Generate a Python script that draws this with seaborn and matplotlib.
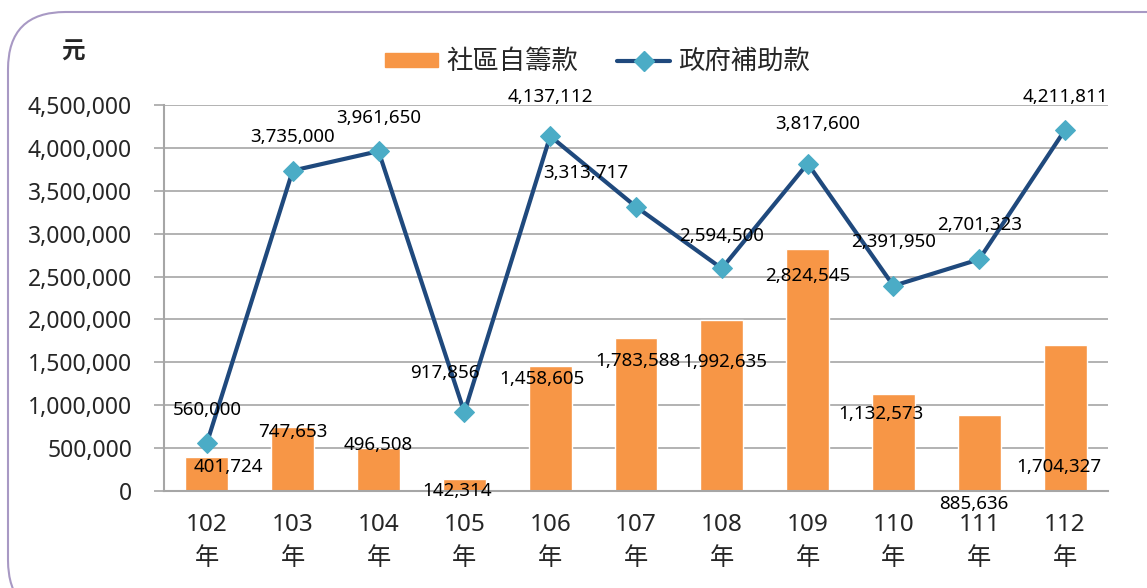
import numpy as np
import matplotlib
matplotlib.use("Agg")
import matplotlib.pyplot as plt
import seaborn as sns
from matplotlib.patches import FancyBboxPatch, Patch
from matplotlib.lines import Line2D
from matplotlib.ticker import FuncFormatter, FixedLocator

# data
years = ["102", "103", "104", "105", "106", "107", "108", "109", "110", "111", "112"]
self_funds = [401724, 747653, 496508, 142314, 1458605, 1783588, 1992635, 2824545, 1132573, 885636, 1704327]
gov_funds = [560000, 3735000, 3961650, 917856, 4137112, 3313717, 2594500, 3817600, 2391950, 2701323, 4211811]
series_names = ["社區自籌款", "政府補助款"]
unit_label = "元"

# label offsets in pixels (dx, dy), mimicking the hand-placed Excel labels
bar_label_off = [(21, -10), (0, -5), (0, 3), (-7, -12), (-8, -13), (2, -23),
                 (3, -42), (0, -27), (-13, -20), (-5, -89), (-6, -122)]
line_label_off = [(0, 33), (0, 34), (0, 33), (-19, 39), (0, 39), (-50, 34),
                  (0, 32), (10, 40), (0, 44), (0, 34), (0, 33)]

orange = "#F79646"
navy = "#1F497D"
teal = "#4BACC6"
grid_gray = "#A6A6A6"

sns.set_theme(style="white")
plt.rcParams["font.family"] = ["Noto Sans", "Noto Sans CJK TC", "DejaVu Sans"]

fig = plt.figure(figsize=(11.47, 5.88), dpi=100)
ax = fig.add_axes([164 / 1147, 1 - 491 / 588, 944 / 1147, 386 / 588])

x = np.arange(len(years))
sns.barplot(x=x, y=self_funds, color=orange, width=0.5, saturation=1, ax=ax, zorder=2)
sns.lineplot(x=x, y=gov_funds, color=navy, linewidth=3, marker="D", markersize=10,
             markerfacecolor=teal, markeredgecolor=teal, ax=ax, zorder=3)

ax.set_xlim(-0.5, len(years) - 0.5)
ax.set_ylim(0, 4500000)
ax.set_yticks(np.arange(0, 4500001, 500000))
ax.yaxis.set_major_formatter(FuncFormatter(lambda v, p: f"{v:,.0f}"))
ax.yaxis.grid(True, color=grid_gray, linewidth=1.2)
ax.set_axisbelow(True)

# category labels between boundary ticks
ax.set_xticks(x)
ax.set_xticklabels([f"{y}\n年" for y in years], fontsize=17.5, linespacing=1.55)
ax.xaxis.set_minor_locator(FixedLocator(np.arange(-0.5, len(years), 1)))
ax.tick_params(axis="x", which="major", length=0, pad=16)
ax.tick_params(axis="x", which="minor", length=8, width=1.2, color=grid_gray, direction="out")
ax.tick_params(axis="y", length=7, width=1.2, color=grid_gray, labelsize=16.5, pad=16, left=True)

for side in ["top", "right"]:
    ax.spines[side].set_visible(False)
for side in ["left", "bottom"]:
    ax.spines[side].set_color(grid_gray)
    ax.spines[side].set_linewidth(1.5)

# data labels
for i, v in enumerate(self_funds):
    dx, dy = bar_label_off[i]
    ax.annotate(f"{v:,}", (x[i], v), xytext=(dx, dy), textcoords="offset pixels",
                ha="center", va="center", fontsize=13.5, color="black", zorder=5)
for i, v in enumerate(gov_funds):
    dx, dy = line_label_off[i]
    ax.annotate(f"{v:,}", (x[i], v), xytext=(dx, dy), textcoords="offset pixels",
                ha="center", va="center", fontsize=13.5, color="black", zorder=5)

# legend
handles = [Patch(facecolor=orange, edgecolor=orange),
           Line2D([0], [0], color=navy, linewidth=3, marker="D", markersize=10,
                  markerfacecolor=teal, markeredgecolor=teal)]
fig.legend(handles, series_names, loc="center", bbox_to_anchor=(0.521, 0.895), ncol=2,
           frameon=False, prop={"family": ["Noto Sans CJK TC"], "size": 19},
           handlelength=2.0, handleheight=0.45, columnspacing=1.5, handletextpad=0.3)

fig.text(73 / 1147, 1 - 52 / 588, unit_label, fontsize=17, fontweight="bold",
         ha="center", va="center", family=["Noto Sans CJK TC"])

# rounded chart border
border = FancyBboxPatch((8 / 1147, -0.05), 1.2, 1 - 12 / 588 + 0.05,
                        boxstyle="round,pad=0,rounding_size=0.05",
                        transform=fig.transFigure, facecolor="none",
                        edgecolor="#A899C4", linewidth=1.5, clip_on=False,
                        mutation_aspect=1147 / 588)
fig.patches.append(border)

fig.savefig("out.png", dpi=100)
